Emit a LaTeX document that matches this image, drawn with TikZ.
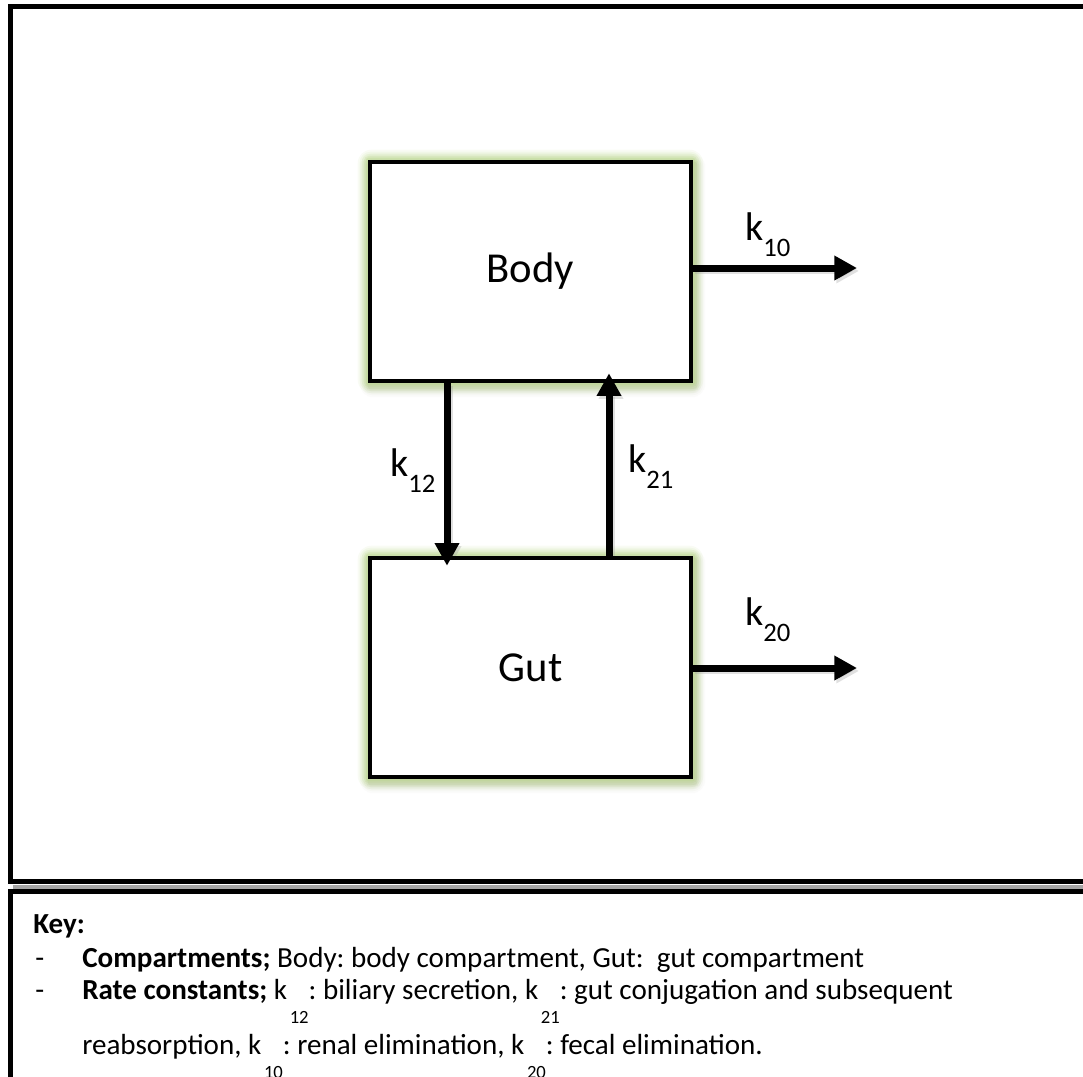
\documentclass[tikz,border=0pt]{standalone}
\usepackage{fontspec}
\setmainfont{Carlito}
\usetikzlibrary{arrows.meta,calc}
\pgfdeclarelayer{background}
\pgfsetlayers{background,main}
\frenchspacing

\definecolor{glowgreen}{HTML}{ADD272}
\definecolor{shadowgreen}{HTML}{6E7F45}

% rate constant labels: k with a lowered index
\newcommand{\klab}[1]{k\raisebox{-12pt}{\fontsize{20}{24}\selectfont #1}}
\newcommand{\kafter}[1]{k\kern2pt\raisebox{-18.5pt}{\fontsize{14}{16}\selectfont #1}}

\begin{document}
\begin{tikzpicture}[x=0.75pt,y=-0.75pt,
  frame/.style={line width=3.75pt, line cap=rect},
  compartment/.style={draw, line width=3.4pt, fill=white,
    minimum width=240.75pt, minimum height=164.25pt, inner sep=0pt,
    font=\fontsize{32}{38}\selectfont},
  flow/.style={line width=5.25pt, -{Triangle[length=17pt,width=17.5pt]}},
  flowshade/.style={draw=black!40, opacity=0.3,
    transform canvas={shift={(1.5pt,-2.2pt)}}},
  ratelabel/.style={anchor=base west, inner sep=0pt,
    font=\fontsize{30}{36}\selectfont},
  keytext/.style={anchor=base west, inner sep=0pt,
    font=\fontsize{21.8}{26}\selectfont}]
\useasboundingbox (0,0) rectangle (1083,1076);
\clip (0,0) rectangle (1083,1076);

% outer frames
\draw[frame] (1100,6.5) -- (10.5,6.5) -- (10.5,881.5) -- (1100,881.5);
\draw[black!35, line width=3pt] (13,886.5) -- (1100,886.5);
\draw[frame] (1100,891.5) -- (10.5,891.5) -- (10.5,1100);

% compartments
\node[compartment] (Body) at (530.5,271.5) {Body};
\node[compartment] (Gut)  at (530.5,667.5) {Gut};

% transfer arrows
\coordinate (c12) at (447,0);
\coordinate (c21) at (609,0);
\coordinate (e10) at (857,268);
\coordinate (e20) at (857,668);

\draw[flow, shorten >=-7.5pt] (Body.south -| c12) -- (Gut.north -| c12);
\draw[flow, shorten >=-7.5pt] (Gut.north -| c21) -- (Body.south -| c21);
\draw[flow] (Body.east |- e10) -- (e10);
\draw[flow] (Gut.east |- e20) -- (e20);

% rate constant labels
\node[ratelabel] (k10) at (745,240) {\klab{10}};
\node[ratelabel] (k20) at (745,625) {\klab{20}};
\node[ratelabel] (k12) at (390,476) {\klab{12}};
\node[ratelabel] (k21) at (628,472) {\klab{21}};

% glow and shadows behind boxes and arrows
\begin{pgfonlayer}{background}
  \foreach \n in {Body,Gut}{
    \foreach \g/\o in {10/0.08,8/0.10,6/0.13,4/0.17,2/0.22}{
      \fill[shadowgreen, opacity=0.35*\o, rounded corners=\g pt]
        ($(\n.south west)+(-\g+2,\g+4)$) rectangle ($(\n.north east)+(\g+2,-\g+4)$);
      \fill[glowgreen, opacity=\o, rounded corners=\g pt]
        ($(\n.south west)+(-\g,\g)$) rectangle ($(\n.north east)+(\g,-\g)$);
    }
  }
  \draw[flow, flowshade, shorten >=-7.5pt] (Body.south -| c12) -- (Gut.north -| c12);
  \draw[flow, flowshade, shorten >=-7.5pt] (Gut.north -| c21) -- (Body.south -| c21);
  \draw[flow, flowshade] (Body.east |- e10) -- (e10);
  \draw[flow, flowshade] (Gut.east |- e20) -- (e20);
\end{pgfonlayer}

% key
\node[keytext] (keyhead) at (33,933) {\textbf{Key:}};
\node[keytext] (dash1) at (35,967) {-};
\node[keytext] (line1) at (82,967)
  {\textbf{Compartments;} Body: body compartment, Gut:\ \ gut compartment};
\node[keytext] (dash2) at (35,999) {-};
\node[keytext] (line2) at (82,999)
  {\textbf{Rate constants;} \kafter{12}: biliary secretion, \kafter{21}: gut conjugation and subsequent};
\node[keytext] (line3) at (82,1054)
  {reabsorption, \kafter{10}: renal elimination, \kafter{20}: fecal elimination.};
\end{tikzpicture}
\end{document}
